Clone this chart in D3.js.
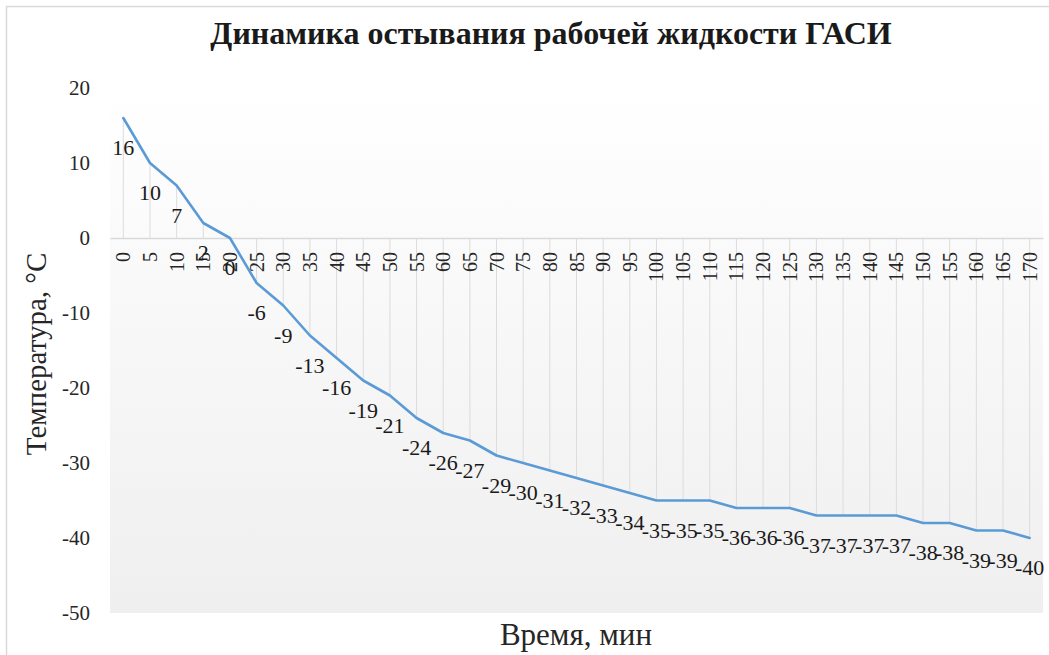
<!DOCTYPE html>
<html lang="ru">
<head>
<meta charset="utf-8">
<script src="https://cdn.jsdelivr.net/npm/d3@7/dist/d3.min.js"></script>
<style>
  html, body { margin: 0; padding: 0; background: #ffffff; }
  svg { display: block; font-family: "Liberation Serif", "Times New Roman", serif; }
</style>
</head>
<body>
<svg id="chart" width="1049" height="655"></svg>
<script>
// Время, мин
const minutes = [0, 5, 10, 15, 20, 25, 30, 35, 40, 45, 50, 55, 60, 65, 70, 75, 80, 85,
  90, 95, 100, 105, 110, 115, 120, 125, 130, 135, 140, 145, 150, 155, 160, 165, 170];
// Температура рабочей жидкости, °C
const temperature = [16, 10, 7, 2, 0, -6, -9, -13, -16, -19, -21, -24, -26, -27, -29, -30, -31, -32,
  -33, -34, -35, -35, -35, -36, -36, -36, -37, -37, -37, -37, -38, -38, -39, -39, -40];
const yTicks = [20, 10, 0, -10, -20, -30, -40, -50];

const titleText = "Динамика остывания рабочей жидкости ГАСИ";
const xTitle = "Время, мин";
const yTitle = "Температура, °С";

const points = minutes.map((m, i) => ({ m, t: temperature[i] }));
const plain = v => String(v); // hyphen-minus, as in the spreadsheet

const svg = d3.select("#chart");
const plot = { left: 110, right: 1043, top: 88, bottom: 613 };

const x = d3.scaleBand().domain(minutes).range([plot.left, plot.right]).padding(0);
const cx = m => x(m) + x.bandwidth() / 2;
const y = d3.scaleLinear().domain([-50, 20]).range([plot.bottom, plot.top]);

// chart frame
svg.append("rect")
  .attr("x", 6.5).attr("y", 6.5).attr("width", 1100).attr("height", 700)
  .attr("fill", "#ffffff").attr("stroke", "#d9d9d9").attr("stroke-width", 1.5);

// plot area with vertical gradient
const defs = svg.append("defs");
const grad = defs.append("linearGradient").attr("id", "plotFill")
  .attr("x1", 0).attr("y1", 0).attr("x2", 0).attr("y2", 1);
grad.append("stop").attr("offset", "0%").attr("stop-color", "#ffffff");
grad.append("stop").attr("offset", "100%").attr("stop-color", "#efefef");

svg.append("rect")
  .attr("x", plot.left).attr("y", plot.top)
  .attr("width", plot.right - plot.left).attr("height", plot.bottom - plot.top)
  .attr("fill", "url(#plotFill)");

// drop lines from each point to the category axis
svg.append("g").selectAll("line").data(points).join("line")
  .attr("x1", d => cx(d.m)).attr("x2", d => cx(d.m))
  .attr("y1", d => y(d.t)).attr("y2", y(0))
  .attr("stroke", "#dcdcdc").attr("stroke-width", 1);

// category axis at 0
const xAxis = svg.append("g")
  .attr("transform", `translate(0,${y(0)})`)
  .call(d3.axisBottom(x).tickSize(0).tickPadding(0).tickFormat(plain));
xAxis.select(".domain").attr("stroke", "#d9d9d9").attr("stroke-width", 1.5);
xAxis.selectAll("text")
  .attr("font-family", "Liberation Serif, serif")
  .attr("font-size", 20)
  .attr("fill", "#262626")
  .attr("text-anchor", "end")
  .attr("transform", "translate(0,14) rotate(-90)")
  .attr("x", 0).attr("y", 0).attr("dy", "0.35em");

// value axis
const yAxis = svg.append("g")
  .attr("transform", `translate(${plot.left},0)`)
  .call(d3.axisLeft(y).tickValues(yTicks).tickSize(0).tickPadding(20).tickFormat(plain));
yAxis.select(".domain").remove();
yAxis.selectAll("text")
  .attr("font-family", "Liberation Serif, serif")
  .attr("font-size", 21)
  .attr("fill", "#262626");

// temperature line
svg.append("path")
  .datum(points)
  .attr("fill", "none")
  .attr("stroke", "#5b9bd5")
  .attr("stroke-width", 2.6)
  .attr("stroke-linejoin", "round")
  .attr("stroke-linecap", "round")
  .attr("d", d3.line().x(d => cx(d.m)).y(d => y(d.t)));

// data labels below the points
svg.append("g").selectAll("text").data(points).join("text")
  .attr("x", d => cx(d.m))
  .attr("y", d => y(d.t) + 37)
  .attr("text-anchor", "middle")
  .attr("font-size", 22)
  .attr("fill", "#1a1a1a")
  .text(d => plain(d.t));

// titles
svg.append("text")
  .attr("x", 551).attr("y", 44)
  .attr("text-anchor", "middle")
  .attr("font-size", 32).attr("font-weight", "bold")
  .attr("fill", "#1a1a1a")
  .text(titleText);

svg.append("text")
  .attr("x", 576).attr("y", 645)
  .attr("text-anchor", "middle")
  .attr("font-size", 31)
  .attr("fill", "#262626")
  .text(xTitle);

svg.append("text")
  .attr("transform", "translate(46,354) rotate(-90)")
  .attr("text-anchor", "middle")
  .attr("font-size", 29)
  .attr("fill", "#262626")
  .text(yTitle);
</script>
</body>
</html>
